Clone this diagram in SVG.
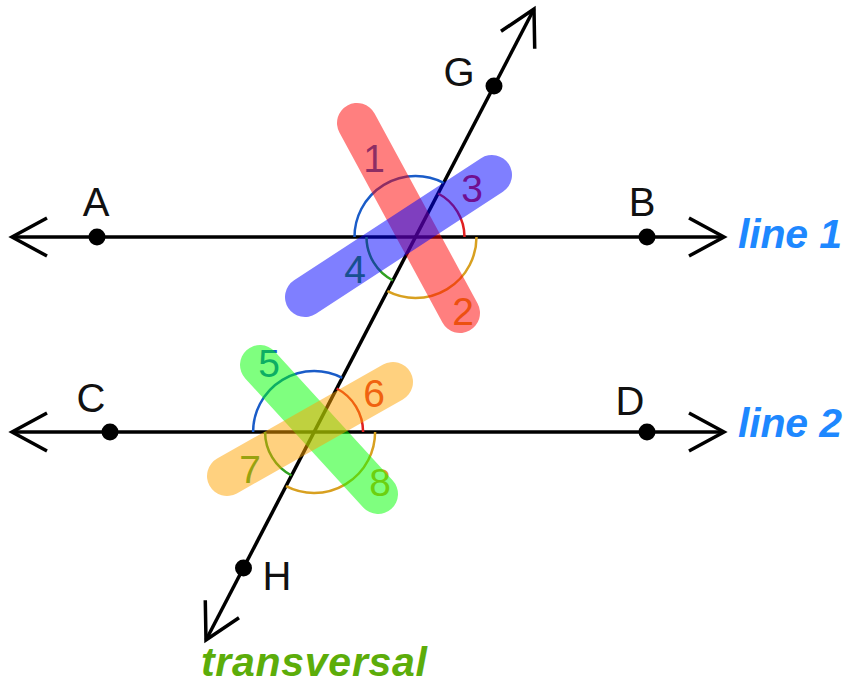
<svg xmlns="http://www.w3.org/2000/svg" width="848" height="686" viewBox="0 0 848 686">
<defs>
<marker id="arr" markerUnits="userSpaceOnUse" markerWidth="80" markerHeight="80" refX="0" refY="0" viewBox="-40 -40 80 80" orient="auto-start-reverse" overflow="visible">
<path d="M -35 -19 L 0 0 L -35 19" fill="none" stroke="#000" stroke-width="3.5" stroke-linejoin="miter"/>
</marker>
</defs>
<style>
.ln{stroke:#000;stroke-width:3.5;fill:none;marker-start:url(#arr);marker-end:url(#arr)}
.dot{fill:#000}
.lbl{font-family:"Liberation Sans",Arial,sans-serif;font-size:40px;fill:#111;text-anchor:middle}
.num{font-family:"Liberation Sans",Arial,sans-serif;font-size:39px;text-anchor:middle}
.name{font-family:"Liberation Sans",Arial,sans-serif;font-size:41px;font-weight:bold;font-style:italic}
.arc{fill:none;stroke-width:2.5}
.cb{stroke:#1a5cc8}.cr{stroke:#e02020}.cg{stroke:#d8a020}.cn{stroke:#30a020}
.tb{fill:#1a5cc8}.tr{fill:#e02020}.tg{fill:#d8a020}.tn{fill:#30a020}
.hl{stroke-width:40;stroke-linecap:round;stroke-opacity:0.5;fill:none}
</style>
<g id="connectors">
<line class="ln" x1="12" y1="237" x2="724" y2="237"/>
<line class="ln" x1="12" y1="432" x2="724" y2="432"/>
<line class="ln" x1="206" y1="640" x2="534" y2="9"/>
</g>
<g id="points">
<circle class="dot" cx="97" cy="237" r="8.5"/>
<circle class="dot" cx="647" cy="237" r="8.5"/>
<circle class="dot" cx="110" cy="432" r="8.5"/>
<circle class="dot" cx="647" cy="432" r="8.5"/>
<circle class="dot" cx="494" cy="86" r="8.5"/>
<circle class="dot" cx="243.5" cy="568" r="8.5"/>
<text class="lbl" x="96" y="216">A</text>
<text class="lbl" x="642" y="216">B</text>
<text class="lbl" x="91" y="412">C</text>
<text class="lbl" x="630" y="415">D</text>
<text class="lbl" x="459" y="86">G</text>
<text class="lbl" x="277" y="590">H</text>
</g>
<g id="angles1">
<path class="arc cb" d="M 354.5 237 A 61 61 0 0 1 443.6 182.9"/>
<path class="arc cr" d="M 438.1 193.5 A 49 49 0 0 1 464.5 237"/>
<path class="arc cg" d="M 476.5 237 A 61 61 0 0 1 387.4 291.1"/>
<path class="arc cn" d="M 392.9 280.5 A 49 49 0 0 1 366.5 237"/>
<text class="num tb" x="374" y="172">1</text>
<text class="num tr" x="472" y="202">3</text>
<text class="num tg" x="463" y="325">2</text>
<text class="num tn" x="355" y="283">4</text>
</g>
<g id="angles2">
<path class="arc cb" d="M 253.1 432 A 61 61 0 0 1 342.2 377.9"/>
<path class="arc cr" d="M 336.7 388.5 A 49 49 0 0 1 363.1 432"/>
<path class="arc cg" d="M 375.1 432 A 61 61 0 0 1 286 486.1"/>
<path class="arc cn" d="M 291.5 475.5 A 49 49 0 0 1 265.1 432"/>
<text class="num tb" x="269" y="377">5</text>
<text class="num tr" x="374" y="407">6</text>
<text class="num tn" x="250" y="483">7</text>
<text class="num tg" x="380" y="496">8</text>
</g>
<g id="highlights">
<line class="hl" stroke="#ff0000" x1="357" y1="123" x2="460" y2="313"/>
<line class="hl" stroke="#0000ff" x1="305" y1="297" x2="492" y2="175"/>
<line class="hl" stroke="#00ff00" x1="260" y1="365" x2="378" y2="494"/>
<line class="hl" stroke="#ffa300" x1="227" y1="476" x2="393" y2="382"/>
</g>
<g id="names">
<text class="name" x="738" y="248" fill="#1e88ff" textLength="104">line 1</text>
<text class="name" x="738" y="437" fill="#1e88ff" textLength="104">line 2</text>
<text class="name" x="201" y="676" fill="#5cad0a" font-size="40" textLength="226">transversal</text>
</g>
</svg>
